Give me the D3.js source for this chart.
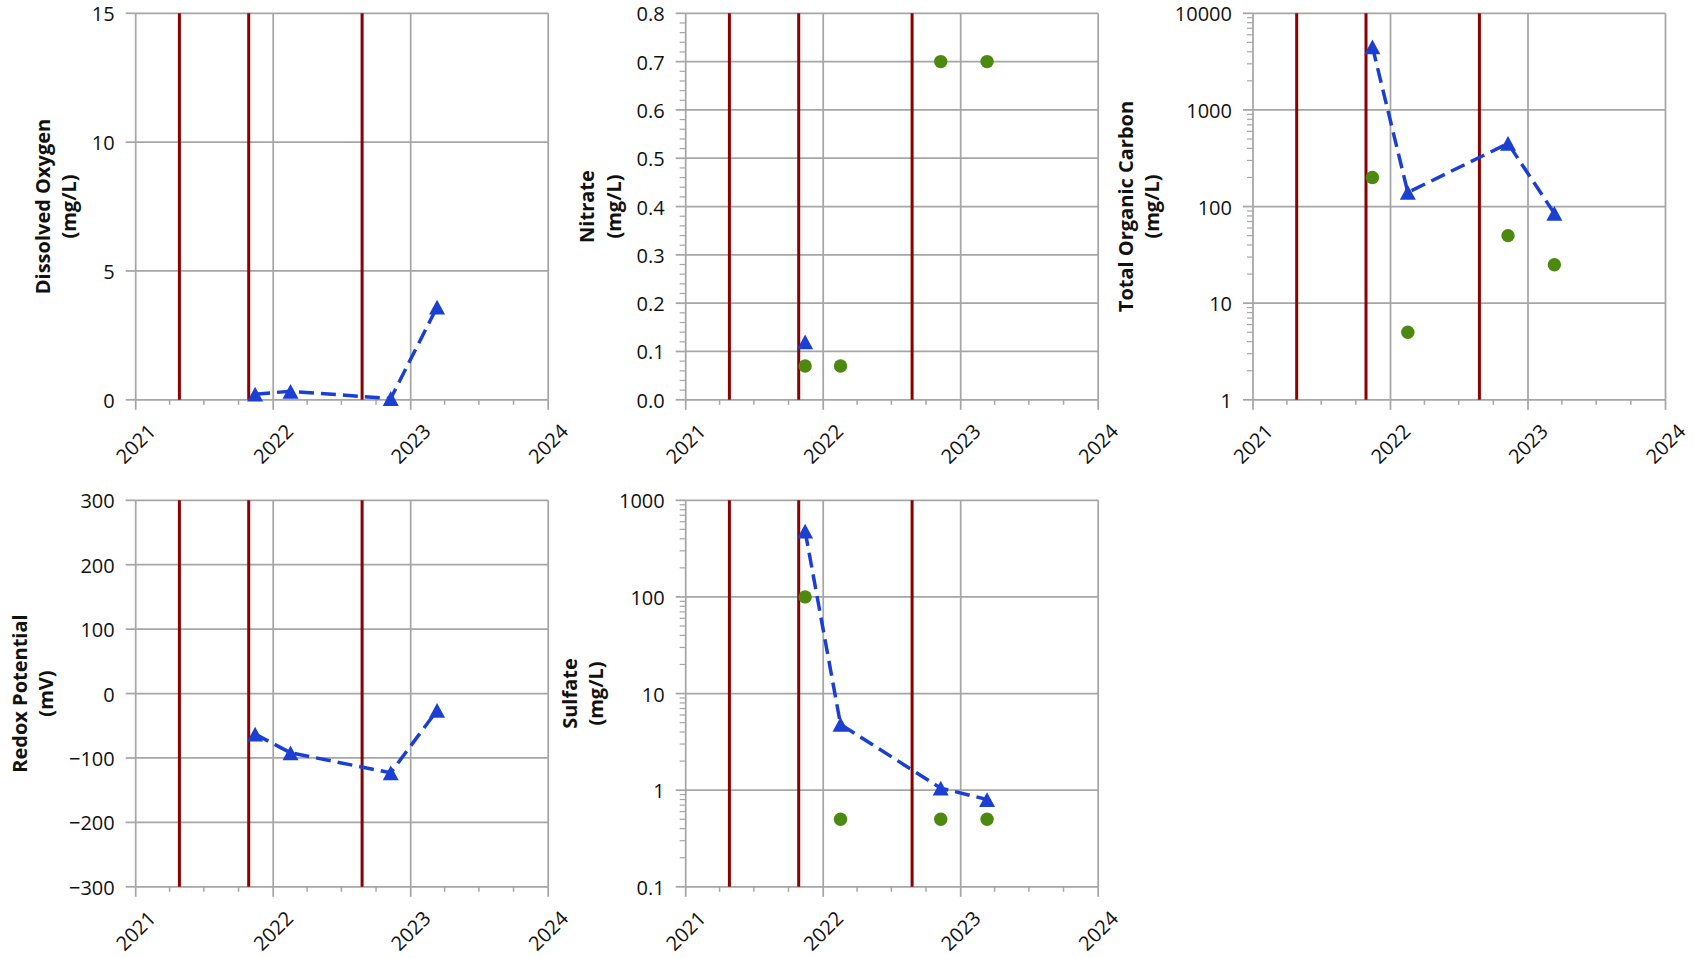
<!DOCTYPE html>
<html><head><meta charset="utf-8">
<script src="https://cdn.jsdelivr.net/npm/d3@7"></script>
<style>body{margin:0;background:#fff}svg{display:block}</style>
</head><body><svg id="chart" width="1694" height="958"></svg>
<script>
// ---------- data ----------
const sampleDates = ["2021-11-14", "2022-02-16", "2022-11-09", "2023-03-12"];
const eventDates = ["2021-04-27", "2021-10-28", "2022-08-25"];
const yearTicks = [2021, 2022, 2023, 2024];

const doBlue = [0.22, 0.33, 0.05, 3.6];
const nitrateBlue = [0.12, null, null, null];
const nitrateGreen = [0.07, 0.07, 0.7, 0.7];
const tocBlue = [4500, 140, 450, 85];
const tocGreen = [200, 5, 50, 25];
const redoxBlue = [-63, -92, -123, -26];
const sulfateBlue = [480, 4.8, 1.05, 0.8];
const sulfateGreen = [100, 0.5, 0.5, 0.5];

const doTicks = [0, 5, 10, 15];
const nitrateTicks = [0, 0.1, 0.2, 0.3, 0.4, 0.5, 0.6, 0.7, 0.8];
const tocTicks = [1, 10, 100, 1000, 10000];
const redoxTicks = [-300, -200, -100, 0, 100, 200, 300];
const sulfateTicks = [0.1, 1, 10, 100, 1000];

const doTitle = ["Dissolved Oxygen", "(mg/L)"];
const nitrateTitle = ["Nitrate", "(mg/L)"];
const tocTitle = ["Total Organic Carbon", "(mg/L)"];
const redoxTitle = ["Redox Potential", "(mV)"];
const sulfateTitle = ["Sulfate", "(mg/L)"];

// ---------- layout / style ----------
const colLefts = [135.7, 685.7, 1253];
const rowTops = [13.3, 500.3];
const plotW = 412.5, plotH = 386.5;
const GRID = "#a6a6a6", RED = "#8b0000", BLUE = "#1b3fd3", GREEN = "#4b8a0e";
const FONT = "'Open Sans', 'Liberation Sans', sans-serif";

const minusFmt = d => d < 0 ? "\u2212" + Math.abs(d) : String(d);
const logMinor = ticks => {
  const out = [];
  ticks.slice(0, -1).forEach(t => { for (let k = 2; k <= 9; k++) out.push(t * k); });
  return out;
};

const panels = [
  {title: doTitle, log: false, ticks: doTicks, fmt: String, minor: [], blue: doBlue, green: null, col: 0, row: 0},
  {title: nitrateTitle, log: false, ticks: nitrateTicks, fmt: d => d.toFixed(1),
   minor: d3.range(1, 40).map(i => i * 0.02).filter((v, i) => (i + 1) % 5 !== 0), blue: nitrateBlue, green: nitrateGreen, col: 1, row: 0},
  {title: tocTitle, log: true, ticks: tocTicks, fmt: String, minor: logMinor(tocTicks), blue: tocBlue, green: tocGreen, col: 2, row: 0},
  {title: redoxTitle, log: false, ticks: redoxTicks, fmt: minusFmt, minor: [], blue: redoxBlue, green: null, col: 0, row: 1},
  {title: sulfateTitle, log: true, ticks: sulfateTicks, fmt: String, minor: logMinor(sulfateTicks), blue: sulfateBlue, green: sulfateGreen, col: 1, row: 1},
];

const parse = d3.timeParse("%Y-%m-%d");
const samples = sampleDates.map(parse);
const events = eventDates.map(parse);
const years = yearTicks.map(y => new Date(y, 0, 1));
const quarters = [];
yearTicks.slice(0, -1).forEach(y => [3, 6, 9].forEach(m => quarters.push(new Date(y, m, 1))));

const svg = d3.select("#chart");
const tri = "M0,-7.4L8,7.4L-8,7.4Z";

panels.forEach(p => {
  const left = colLefts[p.col], top = rowTops[p.row];
  const g = svg.append("g").attr("transform", `translate(${left},${top})`);
  const x = d3.scaleTime().domain([years[0], years[years.length - 1]]).range([0, plotW]);
  const ext = [p.ticks[0], p.ticks[p.ticks.length - 1]];
  const y = (p.log ? d3.scaleLog() : d3.scaleLinear()).domain(ext).range([plotH, 0]);

  // gridlines
  g.append("g").selectAll("line").data(p.ticks).join("line")
    .attr("x1", 0).attr("x2", plotW).attr("y1", d => y(d)).attr("y2", d => y(d))
    .attr("stroke", GRID).attr("stroke-width", 1.75);
  g.append("g").selectAll("line").data(years).join("line")
    .attr("x1", d => x(d)).attr("x2", d => x(d)).attr("y1", 0).attr("y2", plotH)
    .attr("stroke", GRID).attr("stroke-width", 1.75);

  // y axis ticks
  g.append("g").selectAll("line").data(p.ticks).join("line")
    .attr("x1", -10).attr("x2", 0).attr("y1", d => y(d)).attr("y2", d => y(d))
    .attr("stroke", GRID).attr("stroke-width", 1.75);
  g.append("g").selectAll("line").data(p.minor).join("line")
    .attr("x1", -6).attr("x2", 0).attr("y1", d => y(d)).attr("y2", d => y(d))
    .attr("stroke", GRID).attr("stroke-width", 1.2);
  // x axis ticks
  g.append("g").selectAll("line").data(years).join("line")
    .attr("x1", d => x(d)).attr("x2", d => x(d)).attr("y1", plotH).attr("y2", plotH + 10)
    .attr("stroke", GRID).attr("stroke-width", 1.75);
  g.append("g").selectAll("line").data(quarters).join("line")
    .attr("x1", d => x(d)).attr("x2", d => x(d)).attr("y1", plotH).attr("y2", plotH + 5)
    .attr("stroke", GRID).attr("stroke-width", 1.5);

  // event lines
  g.append("g").selectAll("line").data(events).join("line")
    .attr("x1", d => x(d)).attr("x2", d => x(d)).attr("y1", 0).attr("y2", plotH)
    .attr("stroke", RED).attr("stroke-width", 3);

  // y tick labels
  const labs = g.append("g").selectAll("text").data(p.ticks).join("text")
    .attr("x", -21).attr("y", d => y(d)).attr("dy", "0.4em")
    .attr("text-anchor", "end").attr("font-family", FONT).attr("font-size", 20)
    .attr("fill", "#111").text(p.fmt);
  let maxW = 0;
  labs.each(function () { maxW = Math.max(maxW, this.getComputedTextLength()); });

  // x tick labels
  g.append("g").selectAll("text").data(years).join("text")
    .attr("transform", d => `translate(${x(d)},${plotH + 44}) rotate(-45)`)
    .attr("dy", "0.36em").attr("text-anchor", "middle")
    .attr("font-family", FONT).attr("font-size", 20).attr("fill", "#111")
    .text(d => d.getFullYear());

  // axis title
  const x2 = -21 - maxW - 23;
  p.title.forEach((t, i) => {
    g.append("text")
      .attr("transform", `translate(${x2 - 26.5 * (1 - i)},${plotH / 2}) rotate(-90)`)
      .attr("dy", "0.36em").attr("text-anchor", "middle")
      .attr("font-family", FONT).attr("font-weight", "bold").attr("font-size", 20)
      .attr("fill", "#111").text(t);
  });

  // blue dashed line + triangles
  const bpts = samples.map((d, i) => ({d, v: p.blue[i]})).filter(o => o.v != null);
  const line = d3.line().x(o => x(o.d)).y(o => y(o.v));
  if (bpts.length > 1) {
    g.append("path").attr("d", line(bpts)).attr("fill", "none")
      .attr("stroke", BLUE).attr("stroke-width", 3.5).attr("stroke-dasharray", "15,7");
  }
  if (p.green) {
    const gpts = samples.map((d, i) => ({d, v: p.green[i]})).filter(o => o.v != null);
    g.append("g").selectAll("circle").data(gpts).join("circle")
      .attr("cx", o => x(o.d)).attr("cy", o => y(o.v)).attr("r", 6.7).attr("fill", GREEN);
  }
  g.append("g").selectAll("path").data(bpts).join("path")
    .attr("transform", o => `translate(${x(o.d)},${y(o.v)})`).attr("d", tri).attr("fill", BLUE);
});
</script></body></html>
